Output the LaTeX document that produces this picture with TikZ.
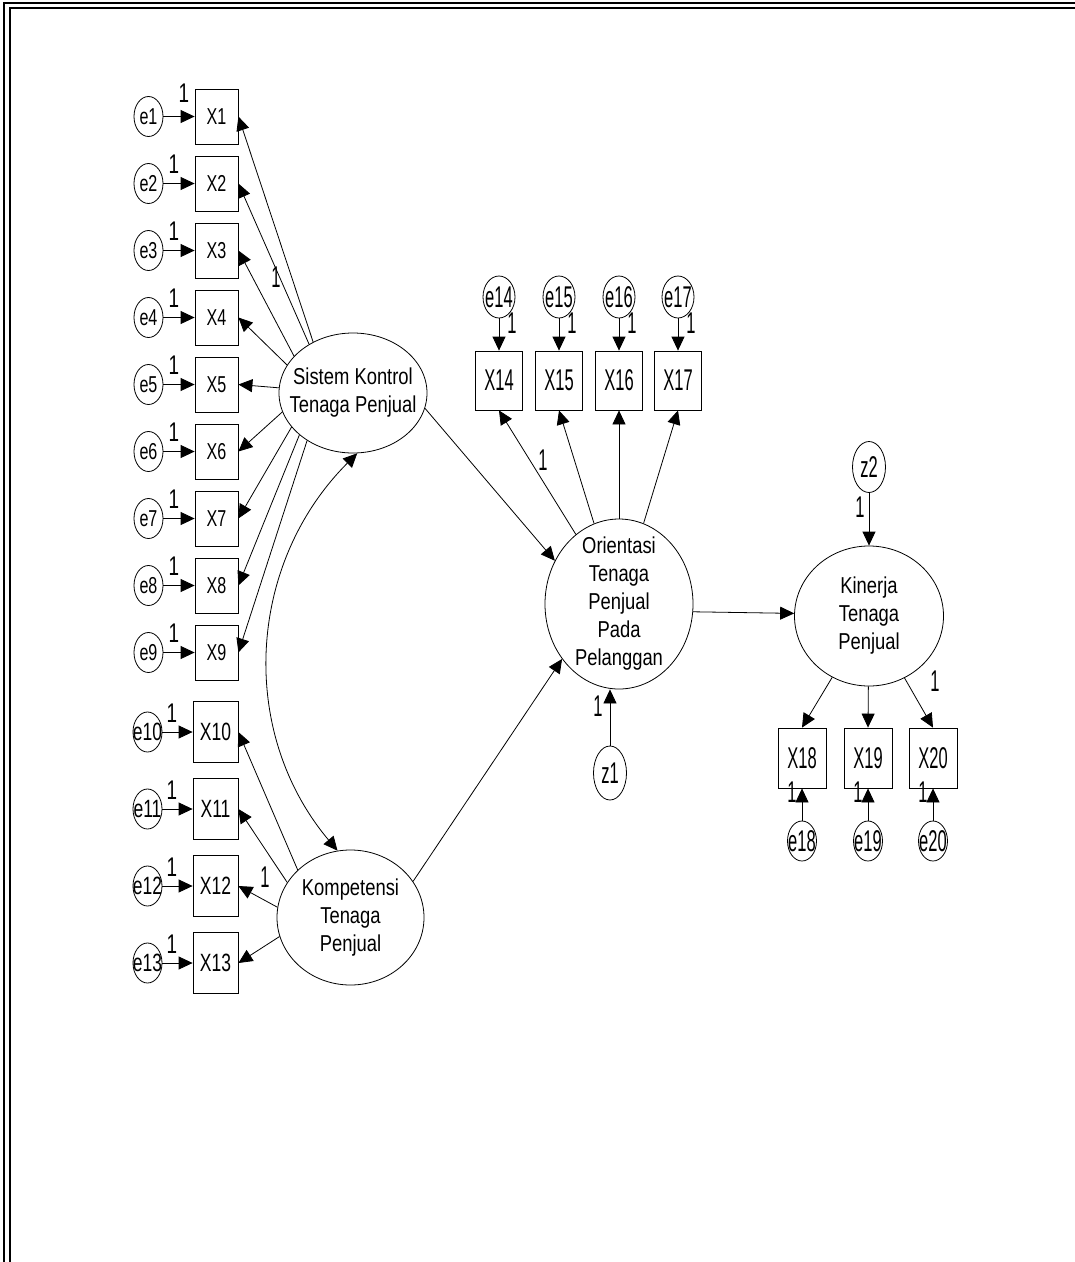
\documentclass[tikz,border=0pt]{standalone}
\usepackage{fontspec}
\setmainfont{Liberation Sans}
\newfontfamily\fontA[FakeStretch=0.70]{Liberation Sans}
\newfontfamily\fontB[FakeStretch=0.55]{Liberation Sans}
\newfontfamily\fontC[FakeStretch=0.80]{Liberation Sans}
\usetikzlibrary{arrows.meta,shapes.geometric}
% zero-width box: the label is centred but does not widen its node
\newcommand\nobox[1]{\makebox[0pt]{#1}}

\begin{document}
\begin{tikzpicture}[x=1pt, y=1pt, line width=0.8pt,
  >={Triangle[length=14pt,width=13pt]},
  obsA/.style={draw, rectangle, minimum width=43pt, minimum height=55pt, inner sep=0pt,
               font=\fontA\fontsize{23}{27}\selectfont},
  obsB/.style={obsA, minimum width=45pt, minimum height=61pt,
               font=\fontA\fontsize{25}{29}\selectfont},
  obsC/.style={obsA, minimum width=47pt, minimum height=59pt,
               font=\fontB\fontsize{30}{34}\selectfont},
  obsD/.style={obsC, minimum width=48pt, minimum height=60pt},
  errA/.style={draw, ellipse, minimum width=29pt, minimum height=40pt, inner sep=0pt,
               font=\fontA\fontsize{23}{27}\selectfont},
  errB/.style={errA, font=\fontA\fontsize{25}{29}\selectfont},
  errC/.style={errA, minimum width=32pt, minimum height=42pt,
               font=\fontB\fontsize{30}{34}\selectfont},
  errD/.style={errA, font=\fontB\fontsize{30}{34}\selectfont},
  latent/.style={draw, ellipse, inner sep=0pt},
  lattext/.style={align=center, inner sep=0pt, font=\fontC\fontsize{23}{28}\selectfont},
  oneA/.style={inner sep=0pt, font=\fontA\fontsize{27}{30}\selectfont},
  oneB/.style={inner sep=0pt, font=\fontB\fontsize{30}{34}\selectfont},
]
\useasboundingbox (0,0) rectangle (1075,-1262);

% double frame along the top and left edges
\draw[line width=2.6pt] (4,-1262) |- (1075,-2.8);
\draw[line width=2pt] (10,-1262) |- (1075,-8);

% latent variables
\node[latent, minimum width=148pt, minimum height=120pt] (sk) at (353,-393) {};
\node[lattext] (sk-t) at (sk) {Sistem Kontrol\\Tenaga Penjual};
\node[latent, minimum width=147pt, minimum height=135pt] (kp) at (350.5,-917.5) {};
\node[lattext] (kp-t) at (kp) {Kompetensi\\Tenaga\\Penjual};
\node[latent, minimum width=148pt, minimum height=170pt] (ot) at (619,-604) {};
\node[lattext] (ot-t) at (ot) {Orientasi\\Tenaga\\Penjual\\Pada\\Pelanggan};
\node[latent, minimum width=149pt, minimum height=140pt] (kn) at (869,-616) {};
\node[lattext] (kn-t) at (kn) {Kinerja\\Tenaga\\Penjual};

% indicators X1-X9 with their errors
\foreach \i in {1,...,9}{
  \pgfmathsetmacro\yy{-116.5-67*(\i-1)}
  \node[obsA] (X\i) at (216.5,\yy) {X\i};
  \node[errA] (e\i) at (148.5,\yy) {\nobox{e\i}};
  \draw[->] (e\i) -- (X\i);
}
\node[oneA] (w1) at (184,-93) {1};
\foreach \i in {2,...,9}{
  \pgfmathsetmacro\yy{-97-67*(\i-1)}
  \node[oneA] (w\i) at (174,\yy) {1};
}

% indicators X10-X13 with their errors
\foreach \i/\yy in {10/-732,11/-809,12/-886,13/-963}{
  \node[obsB] (X\i) at (215.5,\yy) {X\i};
  \node[errB] (e\i) at (147.5,\yy) {\nobox{e\i}};
  \node[oneA] (w\i) at (172,\yy+19) {1};
  \draw[->] (e\i) -- (X\i);
}

% loadings of Sistem Kontrol
\foreach \i/\a in {1/128,2/132,3/148,4/157,5/176,6/195,7/209,8/218,9/226}
  \draw[->] (sk.\a) -- (X\i.east);
\node[oneB] (wsk) at (276,-277) {1};

% loadings of Kompetensi
\foreach \i/\a in {10/138,11/151,12/172,13/195}
  \draw[->] (kp.\a) -- (X\i.east);
\node[oneB] (wkp) at (265,-877) {1};

% covariance between the two exogenous factors
\draw[<->] (sk.274) to[out=225, in=130] (kp.101);

% indicators X14-X17
\foreach \i/\xx in {14/499,15/559,16/619,17/678}{
  \node[obsC] (X\i) at (\xx,-380.5) {X\i};
  \node[errC] (e\i) at (\xx,-297) {\nobox{e\i}};
  \draw[->] (e\i) -- (X\i);
  \node[oneB] (w\i) at (\xx+13,-323) {1};
  \draw[->] (ot) -- (X\i.south);
}
\node[oneB] (wot) at (543,-460) {1};

% indicators X18-X20
\foreach \i/\xx in {18/802,19/868,20/933}{
  \node[obsD] (X\i) at (\xx,-758) {X\i};
  \node[errD] (e\i) at (\xx,-841) {\nobox{e\i}};
  \draw[->] (e\i) -- (X\i);
  \node[oneB] (w\i) at (\xx-10,-792) {1};
  \draw[->] (kn) -- (X\i.north);
}
\node[oneB] (wkn) at (935,-681) {1};

% structural paths
\draw[->] (sk.-12.5) -- (ot.146);
\draw[->] (kp.30) -- (ot.224.5);
\draw[->] (ot.-6) -- (kn.178);

% disturbances
\node[errD, minimum width=33pt, minimum height=54pt] (z1) at (610,-773) {\nobox{z1}};
\draw[->] (z1) -- (z1 |- ot.south);
\node[oneB] (wz1) at (598,-706) {1};
\node[errD, minimum width=33pt, minimum height=51pt] (z2) at (869,-467) {\nobox{z2}};
\draw[->] (z2) -- (kn);
\node[oneB] (wz2) at (860,-507) {1};
\end{tikzpicture}
\end{document}
